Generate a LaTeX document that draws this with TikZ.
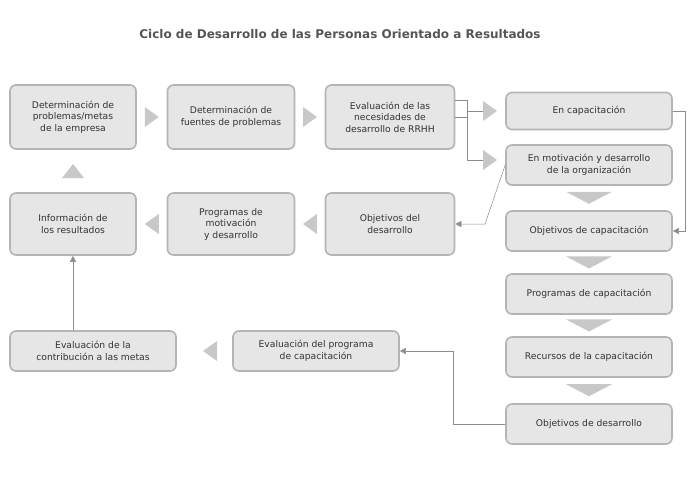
\documentclass[tikz,border=0pt]{standalone}
\usepackage{fontspec}
\setmainfont{DejaVu Sans}
\usetikzlibrary{arrows.meta,positioning,calc}
\definecolor{boxfill}{HTML}{E6E6E6}
\definecolor{boxline}{HTML}{B4B4B4}
\definecolor{tipgray}{HTML}{C8C8C8}
\definecolor{titlegray}{HTML}{555555}
% block arrow triangles at a point
\newcommand\rtri[1]{\fill[tipgray] ($#1+(-7,-10)$) -- ($#1+(7,0)$) -- ($#1+(-7,10)$) -- cycle;}
\newcommand\ltri[1]{\fill[tipgray] ($#1+(7,-10)$) -- ($#1+(-7,0)$) -- ($#1+(7,10)$) -- cycle;}
\newcommand\utri[1]{\fill[tipgray] ($#1+(-11,7)$) -- ($#1+(0,-7)$) -- ($#1+(11,7)$) -- cycle;}
\newcommand\dtri[1]{\fill[tipgray] ($#1+(-23,-5)$) -- ($#1+(0,7)$) -- ($#1+(23,-5)$) -- cycle;}
\begin{document}
\begin{tikzpicture}[x=1pt,y=-1pt]
  \tikzset{stage/.style = {draw=boxline,fill=boxfill,line width=1.6pt,rounded corners=6pt,align=center,font=\fontsize{9.2}{11.5}\selectfont,text=black!80}}
  \tikzset{wide/.style = {stage,minimum width=166pt,minimum height=40pt}}
  \tikzset{link/.style = {draw=black!45,line width=0.5pt,-{Triangle[length=6pt,width=6pt]}}}
  \tikzset{wire/.style = {draw=black!45,line width=0.5pt}}
  \useasboundingbox (0,0) rectangle (700,500);

  \node[font=\bfseries\fontsize{12}{14}\selectfont,text=titlegray] (T) at (340,34) {Ciclo de Desarrollo de las Personas Orientado a Resultados};

  \node[stage,minimum width=126pt,minimum height=64pt] (B1) at (73,117) {Determinación de\\problemas/metas\\de la empresa};
  \node[stage,minimum width=127pt,minimum height=64pt] (B2) at (231,117) {Determinación de\\fuentes de problemas};
  \node[stage,minimum width=129pt,minimum height=64pt] (B3) at (390,117) {Evaluación de las\\necesidades de\\desarrollo de RRHH};

  \node[stage,minimum width=126pt,minimum height=62pt] (L1) at (73,224) {Información de\\los resultados};
  \node[stage,minimum width=127pt,minimum height=62pt] (L2) at (231,224) {Programas de\\motivación\\y desarrollo};
  \node[stage,minimum width=129pt,minimum height=62pt] (L3) at (390,224) {Objetivos del\\desarrollo};

  \node[wide,minimum height=37pt] (R1) at (589,111) {En capacitación};
  \node[wide] (R2) at (589,165) {En motivación y desarrollo\\de la organización};
  \node[wide] (R3) at (589,231) {Objetivos de capacitación};
  \node[wide] (R4) at (589,294) {Programas de capacitación};
  \node[wide] (R5) at (589,357) {Recursos de la capacitación};
  \node[wide] (R6) at (589,424) {Objetivos de desarrollo};

  \node[wide] (E1) at (93,351) {Evaluación de la\\contribución a las metas};
  \node[wide] (E2) at (316,351) {Evaluación del programa\\de capacitación};

  % block arrows
  \rtri{($(B1.east)!0.5!(B2.west)$)}
  \rtri{($(B2.east)!0.5!(B3.west)$)}
  \ltri{($(L3.west)!0.5!(L2.east)$)}
  \ltri{($(L2.west)!0.5!(L1.east)$)}
  \ltri{($(E2.west)!0.4!(E1.east)$)}
  \utri{($(L1.north)!0.5!(B1.south)$)}
  \rtri{(490,111)}
  \rtri{(490,160)}
  \foreach \from/\to in {R2/R3,R3/R4,R4/R5,R5/R6}
    {\dtri{($(\from.south)!0.45!(\to.north)$)}}

  % lines
  \draw[wire] (B3.east) -- (467,117);
  \draw[wire] (467,100) -- (467,160);
  \draw[wire] (455,100) -- (467,100);
  \draw[wire] (467,111) -- (483,111);
  \draw[wire] (467,160) -- (483,160);
  \draw[link] (R1.east) -- (685,111) -- (685,231) -- (R3.east);
  \draw[link] (R2.west) -- (485,224) -- (L3.east);
  \draw[link] (E1.north -| L1.south) -- (L1.south);
  \draw[link] (R6.west) -- (453,424) -- (453,351) -- (E2.east);
\end{tikzpicture}
\end{document}
